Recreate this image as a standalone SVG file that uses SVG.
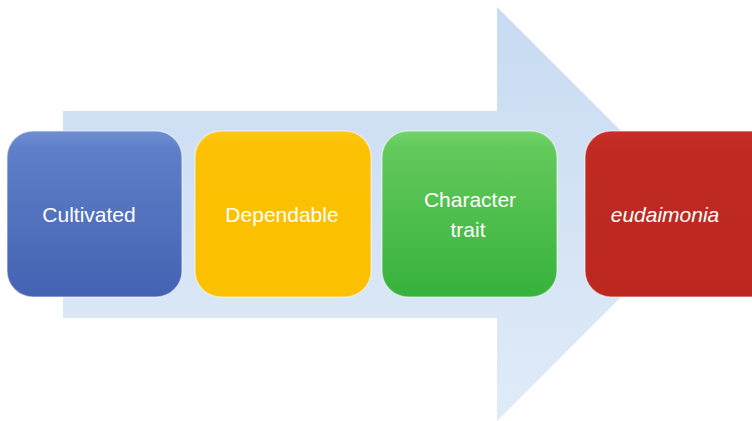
<svg xmlns="http://www.w3.org/2000/svg" width="752" height="421" viewBox="0 0 752 421">
  <defs>
    <linearGradient id="arrowFill" x1="0" y1="0" x2="0" y2="1">
      <stop offset="0" stop-color="#c8dbf2"/>
      <stop offset="1" stop-color="#e0ebf8"/>
    </linearGradient>
    <linearGradient id="blueFill" x1="0" y1="0" x2="0" y2="1">
      <stop offset="0" stop-color="#708fd2"/>
      <stop offset="0.1" stop-color="#5f7fc8"/>
      <stop offset="1" stop-color="#4462b2"/>
    </linearGradient>
    <linearGradient id="yellowFill" x1="0" y1="0" x2="0" y2="1">
      <stop offset="0" stop-color="#fdc814"/>
      <stop offset="0.1" stop-color="#fbc102"/>
      <stop offset="1" stop-color="#fbc000"/>
    </linearGradient>
    <linearGradient id="greenFill" x1="0" y1="0" x2="0" y2="1">
      <stop offset="0" stop-color="#72d46a"/>
      <stop offset="0.1" stop-color="#63c95b"/>
      <stop offset="1" stop-color="#37b23c"/>
    </linearGradient>
    <linearGradient id="redFill" x1="0" y1="0" x2="0" y2="1">
      <stop offset="0" stop-color="#c7302a"/>
      <stop offset="0.1" stop-color="#bf2a22"/>
      <stop offset="1" stop-color="#bc281f"/>
    </linearGradient>
  </defs>
  <style>
    .box { stroke: #ffffff; stroke-opacity: 0.45; stroke-width: 1.5; }
    .label { font-family: "Liberation Sans", Arial, sans-serif; font-size: 21px; fill: #ffffff; text-anchor: middle; }
    .italic { font-style: italic; }
  </style>

  <rect width="752" height="421" fill="#ffffff"/>

  <!-- background process arrow -->
  <g id="connectors">
    <path d="M63,111 H497 V7 L704,214 L497,421 V318 H63 Z" fill="url(#arrowFill)"/>
  </g>

  <g id="node-cultivated">
    <rect class="box" x="7" y="131" width="175" height="166" rx="26" fill="url(#blueFill)"/>
    <text class="label" x="89" y="222">Cultivated</text>
  </g>

  <g id="node-dependable">
    <rect class="box" x="195" y="131" width="176" height="166" rx="26" fill="url(#yellowFill)"/>
    <text class="label" x="282" y="222">Dependable</text>
  </g>

  <g id="node-character-trait">
    <rect class="box" x="382" y="131" width="175" height="166" rx="26" fill="url(#greenFill)"/>
    <text class="label" x="470" y="207">Character</text>
    <text class="label" x="468" y="237">trait</text>
  </g>

  <g id="node-eudaimonia">
    <rect class="box" x="585" y="131" width="195" height="166" rx="26" fill="url(#redFill)"/>
    <text class="label italic" x="665" y="222">eudaimonia</text>
  </g>
</svg>
